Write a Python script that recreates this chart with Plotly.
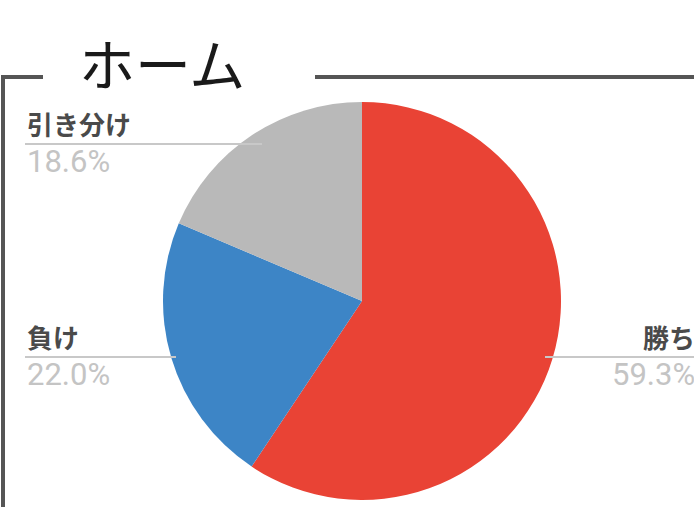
import plotly.graph_objects as go

# Home results breakdown
labels = ["勝ち", "負け", "引き分け"]
values = [59.3, 22.0, 18.6]
colors = ["#E94335", "#3D85C6", "#B9B9B9"]

W, H = 694, 507
title_text = "ホーム"


def px(x):
    return x / W


def py(y):
    return 1 - y / H


# pie centre and radius in pixels
cx, cy, r = 362, 301, 199

fig = go.Figure(go.Pie(
    labels=labels,
    values=values,
    marker=dict(colors=colors, line=dict(width=0)),
    sort=False,
    direction="clockwise",
    rotation=0,
    textinfo="none",
    hoverinfo="label+value",
    showlegend=False,
    domain=dict(x=[px(cx - r), px(cx + r)], y=[py(cy + r), py(cy - r)]),
))

CJK = "Noto Sans CJK JP"
LAT = "Roboto, Noto Sans, sans-serif"

shapes = []
annotations = []

# frame around the chart: left edge plus the top edge broken by the title
frame = dict(color="#555555", width=4)
shapes.append(dict(type="line", xref="paper", yref="paper",
                   x0=px(3), x1=px(3), y0=py(77), y1=py(H + 5), line=frame))
shapes.append(dict(type="line", xref="paper", yref="paper",
                   x0=px(1), x1=px(43), y0=py(77), y1=py(77), line=frame))
shapes.append(dict(type="line", xref="paper", yref="paper",
                   x0=px(315), x1=px(W + 5), y0=py(77), y1=py(77), line=frame))

annotations.append(dict(text=title_text, xref="paper", yref="paper",
                        x=px(162), y=py(62), xanchor="center", yanchor="middle",
                        showarrow=False, font=dict(family=CJK, size=56, color="#1a1a1a")))

# label placement: (name y, rule y, pct y, rule x0, rule x1, text x, anchor)
placement = {
    "引き分け": (123, 144, 161, 25, 262, 25, "left"),
    "負け": (336, 357, 374, 25, 176, 25, "left"),
    "勝ち": (336, 357, 374, 545, W + 5, 697, "right"),
}

for lab, val in zip(labels, values):
    ny, ly, vy, lx0, lx1, tx, anc = placement[lab]
    shapes.append(dict(type="line", xref="paper", yref="paper",
                       x0=px(lx0), x1=px(lx1), y0=py(ly), y1=py(ly),
                       line=dict(color="#c8c8c8", width=2), layer="above"))
    annotations.append(dict(text=lab, xref="paper", yref="paper",
                            x=px(tx), y=py(ny), xanchor=anc, yanchor="middle",
                            showarrow=False,
                            font=dict(family=CJK, size=26, color="#4a4a4a", weight="bold")))
    annotations.append(dict(text=f"{val:.1f}%", xref="paper", yref="paper",
                            x=px(tx), y=py(vy), xanchor=anc, yanchor="middle",
                            showarrow=False,
                            font=dict(family=LAT, size=31, color="#c4c4c4")))

fig.update_layout(
    width=W, height=H,
    margin=dict(l=0, r=0, t=0, b=0),
    paper_bgcolor="white",
    plot_bgcolor="white",
    shapes=shapes,
    annotations=annotations,
)

fig.write_html("out.html", config={"displayModeBar": False})
